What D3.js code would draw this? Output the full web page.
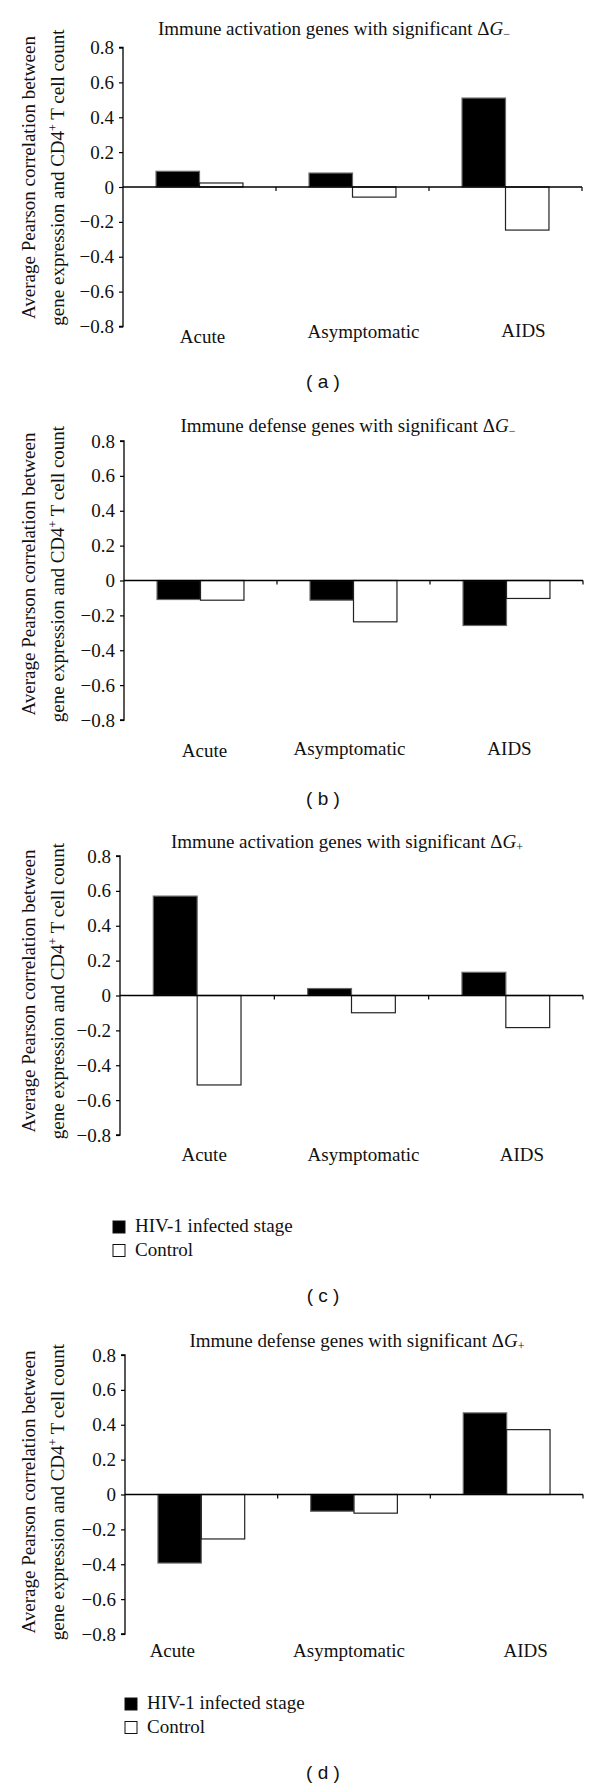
<!DOCTYPE html>
<html><head><meta charset="utf-8">
<script src="https://cdn.jsdelivr.net/npm/d3@7"></script>
<style>body{margin:0;background:#fff} svg{display:block}</style>
</head><body><svg id="chart" width="600" height="1788"></svg>
<script>
// ---- data ----
const categories = ["Acute", "Asymptomatic", "AIDS"];
const seriesNames = ["HIV-1 infected stage", "Control"];
const panelTitles = ["Immune activation genes with significant", "Immune defense genes with significant",
                     "Immune activation genes with significant", "Immune defense genes with significant"];
const titleSigns = ["\u2212", "\u2212", "+", "+"];
const panelLetters = ["a", "b", "c", "d"];
const yTickValues = [0.8, 0.6, 0.4, 0.2, 0, -0.2, -0.4, -0.6, -0.8];
const yTickLabels = ["0.8", "0.6", "0.4", "0.2", "0", "\u22120.2", "\u22120.4", "\u22120.6", "\u22120.8"];
const yLabelLine1 = "Average Pearson correlation between";
const yLabelLine2 = "gene expression and CD4";
const yLabelLine2b = " T cell count";

const infectedA = [0.09, 0.08, 0.51];
const controlA  = [0.023, -0.058, -0.247];
const infectedB = [-0.109, -0.113, -0.258];
const controlB  = [-0.113, -0.237, -0.103];
const infectedC = [0.57, 0.04, 0.133];
const controlC  = [-0.513, -0.099, -0.184];
const infectedD = [-0.393, -0.096, 0.468];
const controlD  = [-0.255, -0.107, 0.372];

const panelData = [[infectedA, controlA], [infectedB, controlB], [infectedC, controlC], [infectedD, controlD]];
const showLegend = [false, false, true, true];

// ---- layout ----
const layout = [
  {top: 47.5, left: 123, right: 582, titleX: 334, titleDy: -12.5, labelDy: [16, 11, 10], labelDx: [3, 11, 18], letterY: 388, yLabC: 130},
  {top: 441, left: 124, right: 583, titleX: 348, titleDy: -9, labelDy: [37, 35, 35], labelDx: [4, -4, 3], letterY: 805, yLabC: 133},
  {top: 856, left: 120, right: 583, titleX: 347, titleDy: -8, labelDy: [26, 26, 26], labelDx: [7, 12, 16], letterY: 1302, yLabC: 135, legendX: 113, legendY: 1221},
  {top: 1355, left: 125, right: 583, titleX: 357, titleDy: -8.5, labelDy: [23, 23, 23], labelDx: [-29, -5, 19], letterY: 1779, yLabC: 137, legendX: 125, legendY: 1698}
];
const plotH = 279;
const serif = "'Liberation Serif', 'Times New Roman', serif";
const fs = 19;
const fills = ["#000", "#fff"];
const strokes = ["#666", "#222"];

const svg = d3.select("#chart");

function serifText(sel, size) {
  return sel.attr("font-family", serif).style("font-family", serif)
    .attr("font-size", size).style("font-size", size + "px").attr("fill", "#111");
}

panelData.forEach((series, pi) => {
  const L = layout[pi];
  const g = svg.append("g");
  const y = d3.scaleLinear().domain([-0.8, 0.8]).range([L.top + plotH, L.top]);
  const x0 = d3.scaleBand().domain(categories).range([L.left, L.right]).padding(0);
  const x1 = d3.scaleBand().domain(seriesNames).range([0, x0.bandwidth()]).paddingInner(0).paddingOuter(0.76);

  // title
  const t = serifText(g.append("text"), fs).attr("x", L.titleX).attr("y", L.top + L.titleDy)
    .attr("text-anchor", "middle");
  t.append("tspan").text(panelTitles[pi] + " \u0394");
  t.append("tspan").attr("font-style", "italic").text("G");
  t.append("tspan").style("font-size", "12px").attr("dy", 3).text(titleSigns[pi]);

  // bars
  categories.forEach((c, ci) => {
    seriesNames.forEach((s, si) => {
      const v = series[si][ci];
      g.append("rect")
        .attr("x", x0(c) + x1(s))
        .attr("width", x1.bandwidth())
        .attr("y", y(Math.max(0, v)))
        .attr("height", Math.abs(y(v) - y(0)))
        .attr("fill", fills[si]).attr("stroke", strokes[si]).attr("stroke-width", 1.2);
    });
  });

  // y axis
  const yAxis = d3.axisLeft(y).tickValues(yTickValues).tickSize(4).tickPadding(5)
    .tickFormat((d, i) => yTickLabels[i]);
  const ya = g.append("g").attr("transform", `translate(${L.left},0)`).call(yAxis)
    .attr("font-family", null).attr("font-size", null);
  ya.select(".domain").attr("d", `M-4,${y(0.8)}H0V${y(-0.8)}H-4`).attr("stroke", "#000").attr("stroke-width", 1.3);
  ya.selectAll(".tick line").attr("stroke", "#000").attr("stroke-width", 1.2);
  serifText(ya.selectAll(".tick text"), fs);

  // x axis (zero line with boundary ticks)
  g.append("line").attr("x1", L.left).attr("x2", L.right).attr("y1", y(0)).attr("y2", y(0))
    .attr("stroke", "#000").attr("stroke-width", 1.3);
  categories.forEach(c => {
    const xe = x0(c) + x0.bandwidth();
    g.append("line").attr("x1", xe).attr("x2", xe).attr("y1", y(0)).attr("y2", y(0) + 4)
      .attr("stroke", "#000").attr("stroke-width", 1.2);
  });

  // category labels
  categories.forEach((c, ci) => {
    serifText(g.append("text"), fs).attr("x", x0(c) + x0.bandwidth() / 2 + L.labelDx[ci])
      .attr("y", L.top + plotH + L.labelDy[ci])
      .attr("text-anchor", "middle").text(c);
  });

  // y axis label (two lines, rotated)
  const cy = L.top + L.yLabC;
  serifText(g.append("text"), fs).attr("transform", `translate(34.5,${cy}) rotate(-90)`)
    .attr("text-anchor", "middle").text(yLabelLine1);
  const l2 = serifText(g.append("text"), fs).attr("transform", `translate(63.5,${cy}) rotate(-90)`)
    .attr("text-anchor", "middle");
  l2.append("tspan").text(yLabelLine2);
  l2.append("tspan").style("font-size", "12px").attr("dy", -7).text("+");
  l2.append("tspan").attr("dy", 7).text(yLabelLine2b);

  // legend
  if (showLegend[pi]) {
    seriesNames.forEach((s, si) => {
      const ly = L.legendY + si * 23.5;
      g.append("rect").attr("x", L.legendX).attr("y", ly).attr("width", 12).attr("height", 12)
        .attr("fill", fills[si]).attr("stroke", "#111").attr("stroke-width", 1);
      serifText(g.append("text"), fs).attr("x", L.legendX + 22).attr("y", ly + 11).text(s);
    });
  }

  // panel letter
  g.append("text").attr("x", 323).attr("y", L.letterY).attr("text-anchor", "middle")
    .style("font-family", "'Liberation Sans', Arial, sans-serif").style("font-size", "19px").attr("fill", "#111")
    .style("white-space", "pre").text("( " + panelLetters[pi] + " )");
});
</script></body></html>
